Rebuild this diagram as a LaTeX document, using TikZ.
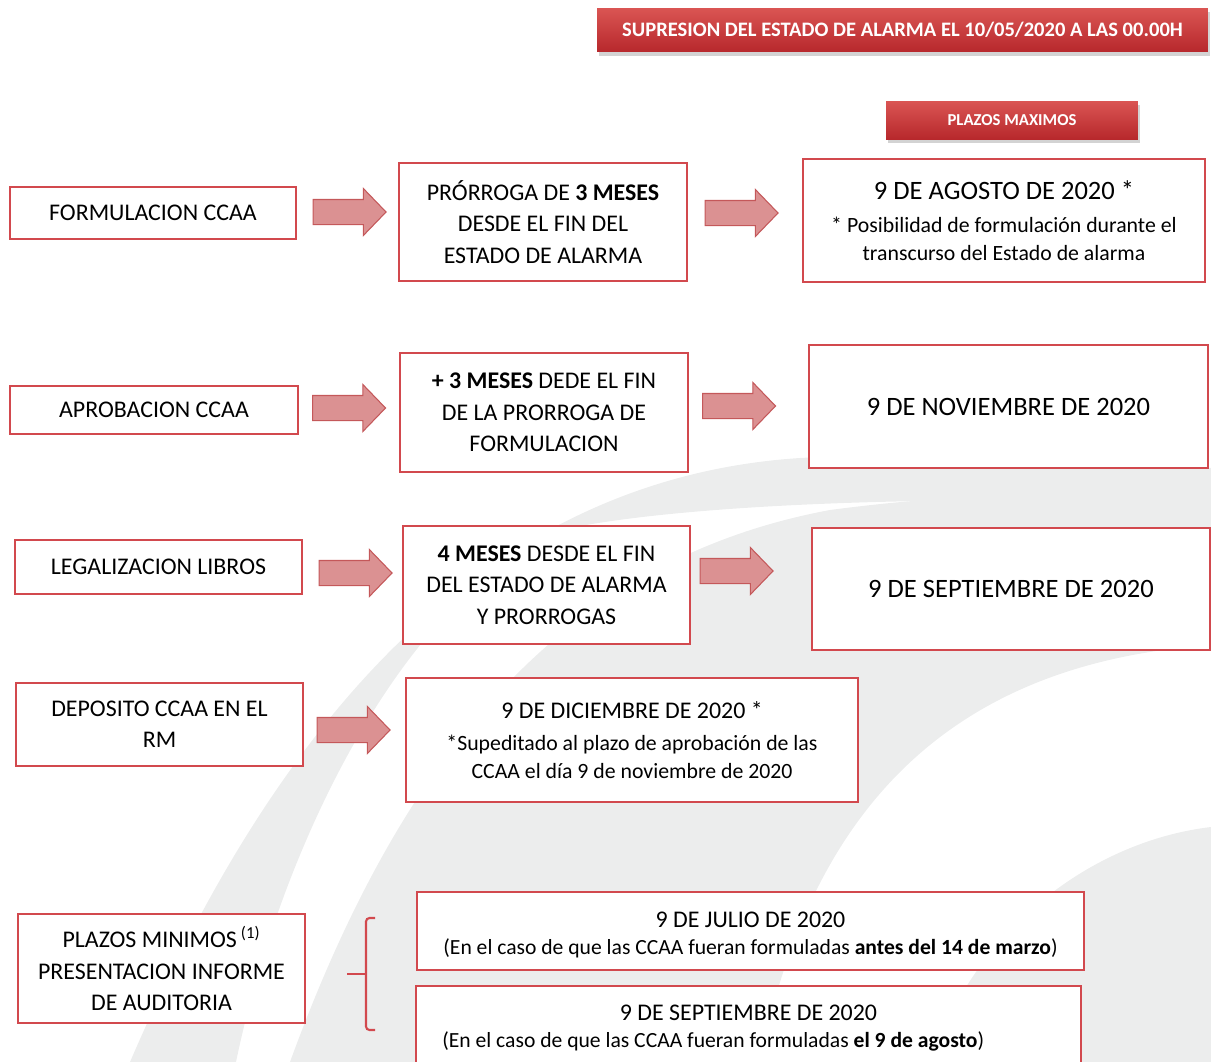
\documentclass[tikz,border=0pt]{standalone}
\usepackage{fontspec}
\setmainfont{Carlito}
\usetikzlibrary{shapes.arrows}
\usetikzlibrary{shadows}

\definecolor{rojocaja}{HTML}{D2494E}
\definecolor{rojoclaro}{HTML}{DA5553}
\definecolor{rojooscuro}{HTML}{B7282C}
\definecolor{flecharelleno}{HTML}{DB9192}
\definecolor{flechaborde}{HTML}{C4585A}
\definecolor{grisfondo}{HTML}{ECEDED}

\newcommand{\letranormal}{\fontsize{13.6}{17.8}\selectfont}
\newcommand{\letrachica}{\fontsize{12.4}{15.9}\selectfont}
\newcommand{\letrapie}{\fontsize{12.3}{15.3}\selectfont}
\newcommand{\letragrande}{\fontsize{15.1}{19}\selectfont}

\begin{document}
\begin{tikzpicture}[x=0.02cm, y=-0.02cm,
    caja/.style={draw=rojocaja, line width=1.2pt, fill=white, align=center, inner sep=0pt, font=\letranormal},
    flecha/.style={single arrow, draw=flechaborde, fill=flecharelleno, line width=0.6pt,
        inner xsep=0pt, inner ysep=0.24cm, minimum height=1.46cm,
        single arrow head extend=0.22cm, single arrow tip angle=92},
    banda/.style={top color=rojoclaro, bottom color=rojooscuro, text=white, inner sep=0pt,
        drop shadow={opacity=0.35, shadow xshift=1pt, shadow yshift=-2.5pt}},
    llave/.style={draw=rojocaja, line width=1.2pt}]
    \useasboundingbox (0,0) rectangle (1211,1062);
    \clip (0,0) rectangle (1211,1062);
    % fondo
    \fill[grisfondo] (130,1062) .. controls (260,760) and (460,480) .. (800,458)
        .. controls (950,450) and (1100,460) .. (1211,468) -- (1211,505)
        .. controls (1000,495) and (700,500) .. (560,530)
        .. controls (400,600) and (280,850) .. (236,1062) -- cycle;
    \fill[grisfondo] (290,1062) .. controls (400,760) and (560,560) .. (830,510)
        .. controls (980,490) and (1120,492) .. (1211,495) -- (1211,645)
        .. controls (1000,660) and (820,760) .. (760,1062) -- cycle;
    \fill[grisfondo] (930,1062) .. controls (980,920) and (1100,840) .. (1211,827) -- (1211,1062) -- cycle;
    % titulos
    \node[banda, minimum width=12.22cm, minimum height=0.88cm, font=\fontsize{11.7}{14}\selectfont\bfseries]
        (supresion) at (902.5,30) {SUPRESION DEL ESTADO DE ALARMA EL 10/05/2020 A LAS 00.00H};
    \node[banda, minimum width=5.04cm, minimum height=0.76cm, font=\fontsize{9.5}{12}\selectfont\bfseries]
        (maximos) at (1012,120) {PLAZOS MAXIMOS};
    % formulacion
    \node[caja, minimum width=5.72cm, minimum height=1.04cm] (formula) at (153,213) {FORMULACION CCAA};
    \node[caja, minimum width=5.76cm, minimum height=2.36cm] (prorroga) at (543,222)
        {PRÓRROGA DE \textbf{3 MESES}\\DESDE EL FIN DEL\\ESTADO DE ALARMA};
    \node[caja, minimum width=8.04cm, minimum height=2.46cm, font=\letrachica] (agosto) at (1004,220.5)
        {{\letragrande 9 DE AGOSTO DE 2020 *}\\[2.8pt]* Posibilidad de formulación durante el\\transcurso del Estado de alarma};
    \node[flecha] (f1a) at (343.5,212) {};
    \node[flecha] (f1b) at (735.5,213) {};
    % aprobacion
    \node[caja, minimum width=5.76cm, minimum height=0.96cm] (aprueba) at (154,410) {APROBACION CCAA};
    \node[caja, minimum width=5.76cm, minimum height=2.38cm] (tresmas) at (544,412.5)
        {\textbf{+ 3 MESES} DEDE EL FIN\\DE LA PRORROGA DE\\FORMULACION};
    \node[caja, minimum width=7.98cm, minimum height=2.46cm, font=\letragrande] (noviembre) at (1008.5,406.5)
        {9 DE NOVIEMBRE DE 2020};
    \node[flecha] (f2a) at (343,408) {};
    \node[flecha] (f2b) at (733,406) {};
    % libros
    \node[caja, minimum width=5.74cm, minimum height=1.08cm] (libros) at (158.5,567) {LEGALIZACION LIBROS};
    \node[caja, minimum width=5.74cm, minimum height=2.36cm] (cuatro) at (546.5,585)
        {\textbf{4 MESES} DESDE EL FIN\\DEL ESTADO DE ALARMA\\Y PRORROGAS};
    \node[caja, minimum width=7.96cm, minimum height=2.44cm, font=\letragrande] (septiembre) at (1011,589)
        {9 DE SEPTIEMBRE DE 2020};
    \node[flecha] (f3a) at (349.5,573) {};
    \node[flecha] (f3b) at (730.5,571) {};
    % deposito
    \node[caja, minimum width=5.74cm, minimum height=1.66cm] (deposito) at (159.5,724.5)
        {DEPOSITO CCAA EN EL\\RM};
    \node[caja, minimum width=9.04cm, minimum height=2.48cm, font=\letrachica] (diciembre) at (632,740)
        {{\letranormal 9 DE DICIEMBRE DE 2020 *}\\[2.8pt]*Supeditado al plazo de aprobación de las\\CCAA el día 9 de noviembre de 2020};
    \node[flecha] (f4a) at (347.5,730) {};
    % auditoria
    \node[caja, minimum width=5.74cm, minimum height=2.18cm] (minimos) at (161.5,968.5)
        {PLAZOS MINIMOS\,\textsuperscript{(1)}\\PRESENTACION INFORME\\DE AUDITORIA};
    \node[caja, minimum width=13.34cm, minimum height=1.56cm, font=\letrapie] (julio) at (750.5,931)
        {{\letranormal\rule{0pt}{13pt}9 DE JULIO DE 2020}\\(En el caso de que las CCAA fueran formuladas \textbf{antes del 14 de marzo})};
    \node[caja, minimum width=13.3cm, minimum height=1.68cm, font=\letrapie] (septmin) at (748.5,1028)
        {{\letranormal 9 DE SEPTIEMBRE DE 2020}\\\makebox[12.25cm][l]{(En el caso de que las CCAA fueran formuladas \textbf{el 9 de agosto})}};
    \coordinate (llavearriba) at (375,918);
    \coordinate (llaveabajo) at (375,1030);
    \coordinate (llavemedio) at (366,974);
    \coordinate (llavepunta) at (347,974);
    \draw[llave, rounded corners=2pt] (llavearriba) -- (366,918) -- (366,1030) -- (llaveabajo);
    \draw[llave] (llavepunta) -- (llavemedio);
\end{tikzpicture}
\end{document}
